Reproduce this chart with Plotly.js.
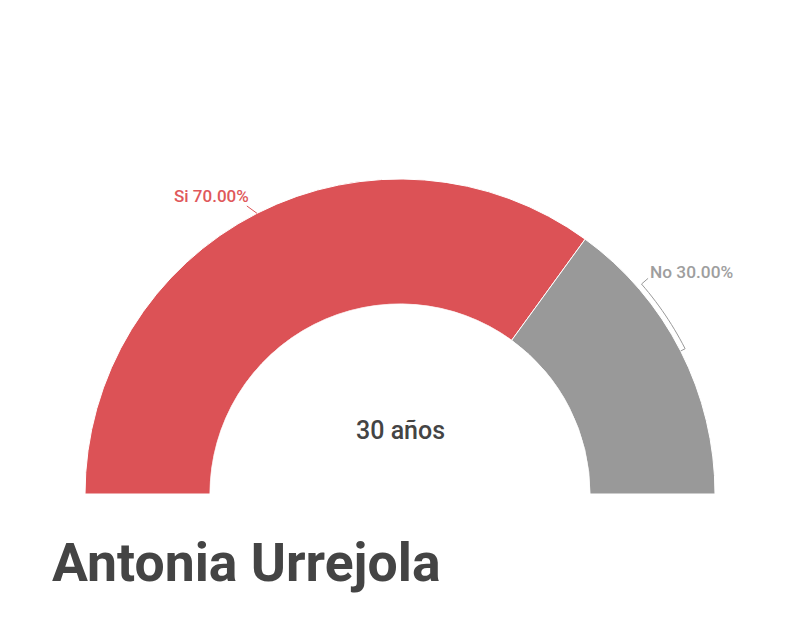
<!DOCTYPE html>
<html>
<head>
<meta charset="utf-8">
<script src="https://cdn.plot.ly/plotly-3.0.1.min.js"></script>
<style>html,body{margin:0;padding:0;background:#fff;}#chart{width:800px;height:617px;}</style>
</head>
<body>
<div id="chart"></div>
<script>
const categories = ["Si", "No"];
const values = [70, 30];
const colors = ["#DC5256", "#999999"];
const centerText = "30 años";
const chartTitle = "Antonia Urrejola";

// angles on a half circle, filled from the left (180°) clockwise to the right (0°)
const total = values.reduce((a, b) => a + b, 0);
const widths = values.map(v => v / total * 180);
const centers = [];
let acc = 180;
widths.forEach(w => { centers.push(acc - w / 2); acc -= w; });

const bars = {
  type: "barpolar",
  r: values.map(() => 1),
  theta: centers,
  width: widths,
  marker: { color: colors, line: { color: "#ffffff", width: 1 } },
  hoverinfo: "skip",
  showlegend: false
};

// leader lines (decoration)
const redLeader = {
  type: "scatterpolar", mode: "lines",
  r: [1.0, 1.09], theta: [centers[0], centers[0] + 1],
  line: { color: colors[0], width: 1 }, hoverinfo: "skip", showlegend: false
};
const arcTheta = [];
const arcR = [];
arcTheta.push(centers[1]); arcR.push(1.0);
for (let t = centers[1]; t <= centers[1] + 14.01; t += 1) { arcTheta.push(t); arcR.push(1.04); }
arcTheta.push(centers[1] + 14); arcR.push(1.11);
const grayLeader = {
  type: "scatterpolar", mode: "lines",
  r: arcR, theta: arcTheta,
  line: { color: "#999999", width: 1 }, hoverinfo: "skip", showlegend: false
};

const layout = {
  width: 800, height: 617,
  margin: { l: 0, r: 0, t: 0, b: 0 },
  paper_bgcolor: "#ffffff",
  font: { family: "Roboto, sans-serif" },
  polar: {
    domain: { x: [70 / 800, 730 / 800], y: [1 - 494 / 617, 1 - 164 / 617] },
    sector: [0, 180],
    hole: 190 / 330,
    bgcolor: "rgba(0,0,0,0)",
    radialaxis: { range: [0, 1.12], visible: false, showgrid: false },
    angularaxis: { visible: false, showgrid: false, rotation: 0, direction: "counterclockwise" }
  },
  annotations: [
    { text: categories[0] + " " + values[0].toFixed(2) + "%", xref: "paper", yref: "paper",
      x: 251 / 800, y: 1 - 196 / 617, xanchor: "right", yanchor: "middle", showarrow: false,
      font: { size: 17, color: "#E0585B", family: "Roboto", weight: 500 } },
    { text: categories[1] + " " + values[1].toFixed(2) + "%", xref: "paper", yref: "paper",
      x: 648 / 800, y: 1 - 272 / 617, xanchor: "left", yanchor: "middle", showarrow: false,
      font: { size: 17.3, color: "#9E9E9E", family: "Roboto", weight: 500 } },
    { text: centerText, xref: "paper", yref: "paper",
      x: 0.5, y: 1 - 430 / 617, xanchor: "center", yanchor: "middle", showarrow: false,
      font: { size: 25, color: "#444444", family: "Roboto", weight: 500 } },
    { text: chartTitle, xref: "paper", yref: "paper",
      x: 50 / 800, y: 1 - 562 / 617, xanchor: "left", yanchor: "middle", showarrow: false,
      font: { size: 53.5, color: "#444444", family: "Roboto", weight: 700 } }
  ]
};

Plotly.newPlot("chart", [bars, redLeader, grayLeader], layout, { displayModeBar: false, staticPlot: true });
</script>
</body>
</html>
